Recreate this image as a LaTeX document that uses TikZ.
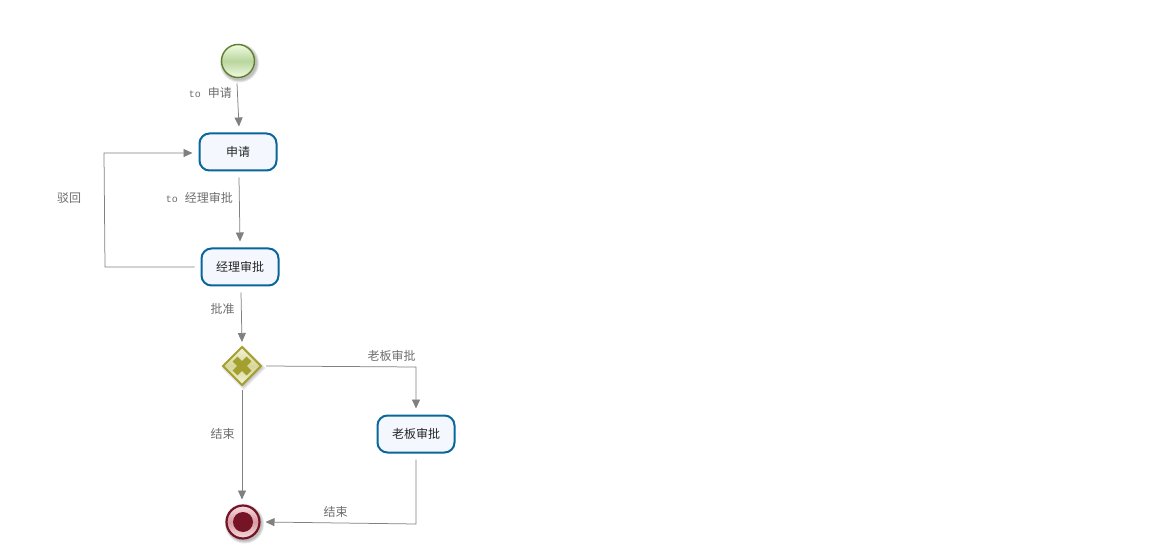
\documentclass[tikz,border=0pt]{standalone}
\usepackage{fontspec}
\setmainfont{Noto Sans CJK SC}
\newfontfamily\latinmono{Liberation Mono}
\usetikzlibrary{arrows.meta,shapes.geometric,calc}
\definecolor{taskline}{HTML}{07669B}
\definecolor{taskfill}{HTML}{F5F7FF}
\definecolor{flowline}{HTML}{808080}
\definecolor{labeltext}{HTML}{6E6E6E}
\definecolor{startline}{HTML}{5F7F2F}
\definecolor{starttop}{HTML}{F0FBE4}
\definecolor{startmid}{HTML}{B9D59C}
\definecolor{gwline}{HTML}{A3A030}
\definecolor{gwtop}{HTML}{F3F3D8}
\definecolor{gwmid}{HTML}{D8D79A}
\definecolor{endline}{HTML}{751425}
\definecolor{endtop}{HTML}{F6DDE0}
\definecolor{endmid}{HTML}{D99AA3}
\newcommand{\tolabel}{{\latinmono\fontsize{10}{10}\selectfont to}\hspace{7pt}}
\tikzset{
  x=1pt,y=-1pt,
  taskbox/.style={draw=taskline,line width=2pt,fill=taskfill,rounded corners=10pt,
    minimum width=77pt,minimum height=37pt,inner sep=0pt,outer sep=7pt,
    font=\fontsize{12}{12}\selectfont,text=black!85},
  flow/.style={draw=flowline,line width=0.75pt,-{Triangle[length=9pt,width=8pt,fill=flowline]}},
  flowlabel/.style={text=labeltext,font=\fontsize{12}{12}\selectfont,inner sep=0pt,anchor=center},
  startev/.style={circle,draw=startline,line width=1.4pt,minimum size=33pt,inner sep=0pt,outer sep=6pt,
    top color=starttop,bottom color=starttop,middle color=startmid},
  gate/.style={diamond,draw=gwline,line width=2pt,minimum size=41pt,inner sep=0pt,outer sep=3.5pt,
    top color=gwtop,bottom color=gwtop,middle color=gwmid},
  endev/.style={circle,draw=endline,line width=2.2pt,minimum size=33pt,inner sep=0pt,outer sep=6pt,
    top color=endtop,bottom color=endtop,middle color=endmid},
  softshadow/.style={fill=black,opacity=0.09,draw=none},
}
\begin{document}
\begin{tikzpicture}
\useasboundingbox (0,0) rectangle (1162,553);
\fill[white] (0,0) rectangle (1162,553);
% soft shadows
\foreach \r in {19.5,18.5,17.5} {\fill[softshadow] (239.5,63) circle[radius=\r];}
\foreach \r in {19.5,18.5,17.5} {\fill[softshadow] (244.5,524) circle[radius=\r];}
\foreach \r in {22,20,18} {\fill[softshadow] (243.5,368-\r) -- (243.5+\r,368) -- (243.5,368+\r) -- (243.5-\r,368) -- cycle;}
% nodes
\node[startev] (start) at (238,61) {};
\node[taskbox] (t1) at (238,152) {申请};
\node[taskbox] (t2) at (240,267) {经理审批};
\node[taskbox] (t3) at (416,434) {老板审批};
\node[gate] (gw) at (242,366) {};
\draw[gwline,line width=7pt] ($(gw.center)+(-7,-7)$) -- ($(gw.center)+(7,7)$);
\draw[gwline,line width=7pt] ($(gw.center)+(-7,7)$) -- ($(gw.center)+(7,-7)$);
\node[endev] (stop) at (243,522) {};
\fill[endline] (stop.center) circle[radius=10];
% connectors
\draw[flow] ([xshift=-1pt]start.south) -- ([xshift=1pt]t1.north);
\draw[flow] ([xshift=1pt]t1.south) -- (t2.north);
\draw[flow] ([xshift=1pt]t2.south) -- (gw.north);
\draw[flow] (gw.south) -- ([xshift=-1pt]stop.north);
\draw[flow] (gw.east) -- ($(gw.east -| t3.north)+(0,1)$) -- (t3.north);
\draw[flow] (t3.south) -- ($(t3.south |- stop.east)+(0,2)$) -- (stop.east);
\draw[flow] (t2.west) -- (105,267) -- (104,153) -- ([yshift=-1pt]t1.west);
% labels
\node[flowlabel,anchor=east] (l1) at (232,92.5) {\tolabel 申请};
\node[flowlabel,anchor=east] (l2) at (233,198) {\tolabel 经理审批};
\node[flowlabel] (l3) at (69,198) {驳回};
\node[flowlabel] (l4) at (222.5,309) {批准};
\node[flowlabel] (l5) at (391.5,356) {老板审批};
\node[flowlabel] (l6) at (222.5,434) {结束};
\node[flowlabel] (l7) at (335.5,512) {结束};
\end{tikzpicture}
\end{document}
